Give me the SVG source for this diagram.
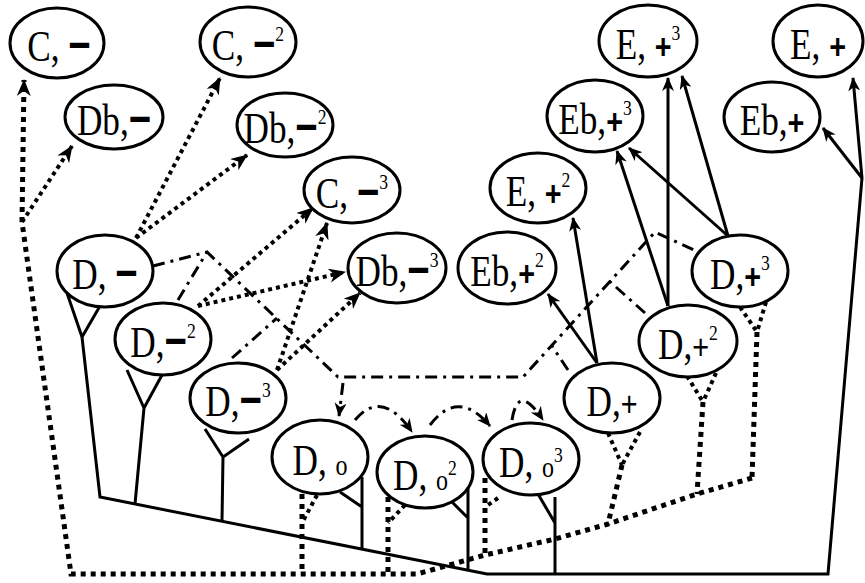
<svg xmlns="http://www.w3.org/2000/svg" width="865" height="583" viewBox="0 0 865 583">
<defs>
<style>
.n ellipse{fill:#fff;stroke:#000;stroke-width:3}
.n text{font-family:"Liberation Serif",serif;font-size:44px;fill:#000;text-anchor:middle}
.mi{font-family:"Liberation Sans",sans-serif;font-weight:bold;font-size:48px}
.pl{font-family:"Liberation Sans",sans-serif;font-weight:bold;font-size:36px}
.pr{font-family:"Liberation Sans",sans-serif;font-size:36px}
.sp{font-size:22px}
.o{font-size:30px}
.sol{fill:none;stroke:#000;stroke-width:3}
.dot{fill:none;stroke:#000;stroke-width:4;stroke-dasharray:4 4}
.dotb{fill:none;stroke:#000;stroke-width:5;stroke-dasharray:5 5}
.dd{fill:none;stroke:#000;stroke-width:3;stroke-dasharray:12 6 3 6}
</style>
<marker id="ab" markerUnits="userSpaceOnUse" markerWidth="20" markerHeight="16" refX="16" refY="7" orient="auto"><path d="M0,0 L17,7 L0,14 L5,7 Z" fill="#000"/></marker>
<marker id="as" markerUnits="userSpaceOnUse" markerWidth="16" markerHeight="14" refX="13" refY="6" orient="auto"><path d="M0,0 L14,6 L0,12 L4,6 Z" fill="#000"/></marker>
</defs>
<rect width="865" height="583" fill="#fff"/>
<g id="connectors">
<path class="sol" d="M82,337 L100,497 L487,574 L828,574 L862,178 L853,78" marker-end="url(#as)"/>
<path class="sol" d="M862,178 L823,128" marker-end="url(#as)"/>
<path class="sol" d="M67,293 L82,337 M100,306 L82,337"/>
<path class="sol" d="M127,370 L144,408 M162,375 L144,408 L135,504"/>
<path class="sol" d="M205,429 L223,457 M249,439 L223,457 L222,521"/>
<path class="sol" d="M362,477 L362,549 M340,492 L362,507"/>
<path class="sol" d="M468,487 L468,571 M452,502 L468,518"/>
<path class="sol" d="M555,497 L555,574 M538,494 L555,523"/>
<path class="sol" d="M597,363 L548,294" marker-end="url(#as)"/>
<path class="sol" d="M597,363 L573,218" marker-end="url(#as)"/>
<path class="sol" d="M668,306 L617,151" marker-end="url(#as)"/>
<path class="sol" d="M668,306 L668,78" marker-end="url(#as)"/>
<path class="sol" d="M728,236 L629,148" marker-end="url(#as)"/>
<path class="sol" d="M728,236 L682,76" marker-end="url(#as)"/>
<path class="dotb" d="M752,478 L697,494 L608,524 L555,539 L485,555 L417,574 L71,574 L22,222"/>
<path class="dotb" d="M22,222 L24,80" marker-end="url(#ab)"/>
<path class="dot" d="M22,222 L72,146" marker-end="url(#ab)"/>
<path class="dot" d="M608,433 L622,465 M640,432 L622,465"/>
<path class="dotb" d="M622,465 L608,524"/>
<path class="dot" d="M687,376 L703,402 M716,373 L703,402"/>
<path class="dotb" d="M703,402 L697,494"/>
<path class="dot" d="M740,307 L757,332 M766,302 L757,332"/>
<path class="dotb" d="M757,332 L752,478"/>
<path class="dotb" d="M485,478 L485,555"/>
<path class="dot" d="M498,498 L485,507"/>
<path class="dotb" d="M388,497 L388,574"/>
<path class="dot" d="M405,505 L388,523"/>
<path class="dotb" d="M302,494 L302,574"/>
<path class="dot" d="M317,495 L302,523"/>
<path class="dot" d="M136,238 L220,78" marker-end="url(#ab)"/>
<path class="dot" d="M136,238 L247,155" marker-end="url(#ab)"/>
<path class="dot" d="M198,306 L313,208" marker-end="url(#ab)"/>
<path class="dot" d="M198,306 L345,272" marker-end="url(#ab)"/>
<path class="dot" d="M277,370 L327,223" marker-end="url(#ab)"/>
<path class="dot" d="M277,370 L360,293" marker-end="url(#ab)"/>
<path class="dd" d="M153,266 L207,252 L338,377 L523,377 L655,232 L694,250"/>
<path class="dd" d="M178,300 L207,252"/>
<path class="dd" d="M232,358 L277,318"/>
<path class="dd" d="M645,313 L607,279"/>
<path class="dd" d="M568,370 L552,346"/>
<path class="dd" d="M343,383 L339,416" marker-end="url(#as)"/>
<path class="dd" d="M355,420 Q382,388 412,432" marker-end="url(#as)"/>
<path class="dd" d="M430,425 Q458,388 490,426" marker-end="url(#as)"/>
<path class="dd" d="M512,420 Q518,382 543,420" marker-end="url(#as)"/>
</g>
<g id="n-C1" class="n"><ellipse cx="57" cy="43" rx="47" ry="35"/><text transform="translate(59,61) scale(0.8,1)">C, <tspan class="mi">−</tspan></text></g>
<g id="n-C2" class="n"><ellipse cx="248" cy="42" rx="48" ry="35"/><text transform="translate(248,60) scale(0.8,1)">C, <tspan class="mi">−</tspan><tspan class="sp" dy="-19">2</tspan></text></g>
<g id="n-Db1" class="n"><ellipse cx="114" cy="117" rx="49" ry="32"/><text transform="translate(114,135) scale(0.8,1)">Db,<tspan class="mi">−</tspan></text></g>
<g id="n-Db2" class="n"><ellipse cx="285" cy="125" rx="48" ry="32"/><text transform="translate(285,143) scale(0.8,1)">Db,<tspan class="mi">−</tspan><tspan class="sp" dy="-19">2</tspan></text></g>
<g id="n-C3" class="n"><ellipse cx="352" cy="190" rx="48" ry="33"/><text transform="translate(352,208) scale(0.8,1)">C, <tspan class="mi">−</tspan><tspan class="sp" dy="-19">3</tspan></text></g>
<g id="n-Db3" class="n"><ellipse cx="397" cy="268" rx="49" ry="35"/><text transform="translate(397,286) scale(0.8,1)">Db,<tspan class="mi">−</tspan><tspan class="sp" dy="-19">3</tspan></text></g>
<g id="n-Eb2" class="n"><ellipse cx="507" cy="268" rx="49" ry="36"/><text transform="translate(507,286) scale(0.8,1)">Eb,<tspan class="pl">+</tspan><tspan class="sp" dy="-19">2</tspan></text></g>
<g id="n-E2" class="n"><ellipse cx="538" cy="188" rx="48" ry="35"/><text transform="translate(538,206) scale(0.8,1)">E, <tspan class="pl">+</tspan><tspan class="sp" dy="-19">2</tspan></text></g>
<g id="n-E3" class="n"><ellipse cx="648" cy="41" rx="49" ry="36"/><text transform="translate(648,59) scale(0.8,1)">E, <tspan class="pl">+</tspan><tspan class="sp" dy="-19">3</tspan></text></g>
<g id="n-E1" class="n"><ellipse cx="818" cy="41" rx="45" ry="36"/><text transform="translate(818,59) scale(0.8,1)">E, <tspan class="pl">+</tspan></text></g>
<g id="n-Eb3" class="n"><ellipse cx="595" cy="116" rx="48" ry="36"/><text transform="translate(595,134) scale(0.8,1)">Eb,<tspan class="pl">+</tspan><tspan class="sp" dy="-19">3</tspan></text></g>
<g id="n-Eb1" class="n"><ellipse cx="772" cy="117" rx="48" ry="35"/><text transform="translate(772,135) scale(0.8,1)">Eb,<tspan class="pl">+</tspan></text></g>
<g id="n-Dp3" class="n"><ellipse cx="740" cy="271" rx="48" ry="36"/><text transform="translate(740,289) scale(0.8,1)">D,<tspan class="pl">+</tspan><tspan class="sp" dy="-19">3</tspan></text></g>
<g id="n-Dp2" class="n"><ellipse cx="688" cy="341" rx="49" ry="36"/><text transform="translate(688,359) scale(0.8,1)">D,<tspan class="pr">+</tspan><tspan class="sp" dy="-19">2</tspan></text></g>
<g id="n-Dp1" class="n"><ellipse cx="612" cy="398" rx="48" ry="35"/><text transform="translate(612,416) scale(0.8,1)">D,<tspan class="pr">+</tspan></text></g>
<g id="n-Do3" class="n"><ellipse cx="531" cy="459" rx="48" ry="36"/><text transform="translate(531,477) scale(0.8,1)">D, <tspan class="o">o</tspan><tspan class="sp" dy="-15">3</tspan></text></g>
<g id="n-Do2" class="n"><ellipse cx="425" cy="472" rx="48" ry="36"/><text transform="translate(425,490) scale(0.8,1)">D, <tspan class="o">o</tspan><tspan class="sp" dy="-15">2</tspan></text></g>
<g id="n-Do1" class="n"><ellipse cx="320" cy="457" rx="48" ry="37"/><text transform="translate(320,475) scale(0.8,1)">D, <tspan class="o">o</tspan></text></g>
<g id="n-Dm3" class="n"><ellipse cx="238" cy="398" rx="48" ry="35"/><text transform="translate(238,416) scale(0.8,1)">D,<tspan class="mi">−</tspan><tspan class="sp" dy="-19">3</tspan></text></g>
<g id="n-Dm2" class="n"><ellipse cx="163" cy="339" rx="48" ry="36"/><text transform="translate(163,357) scale(0.8,1)">D,<tspan class="mi">−</tspan><tspan class="sp" dy="-19">2</tspan></text></g>
<g id="n-Dm1" class="n"><ellipse cx="105" cy="271" rx="48" ry="36"/><text transform="translate(105,289) scale(0.8,1)">D, <tspan class="mi">−</tspan></text></g>
</svg>
